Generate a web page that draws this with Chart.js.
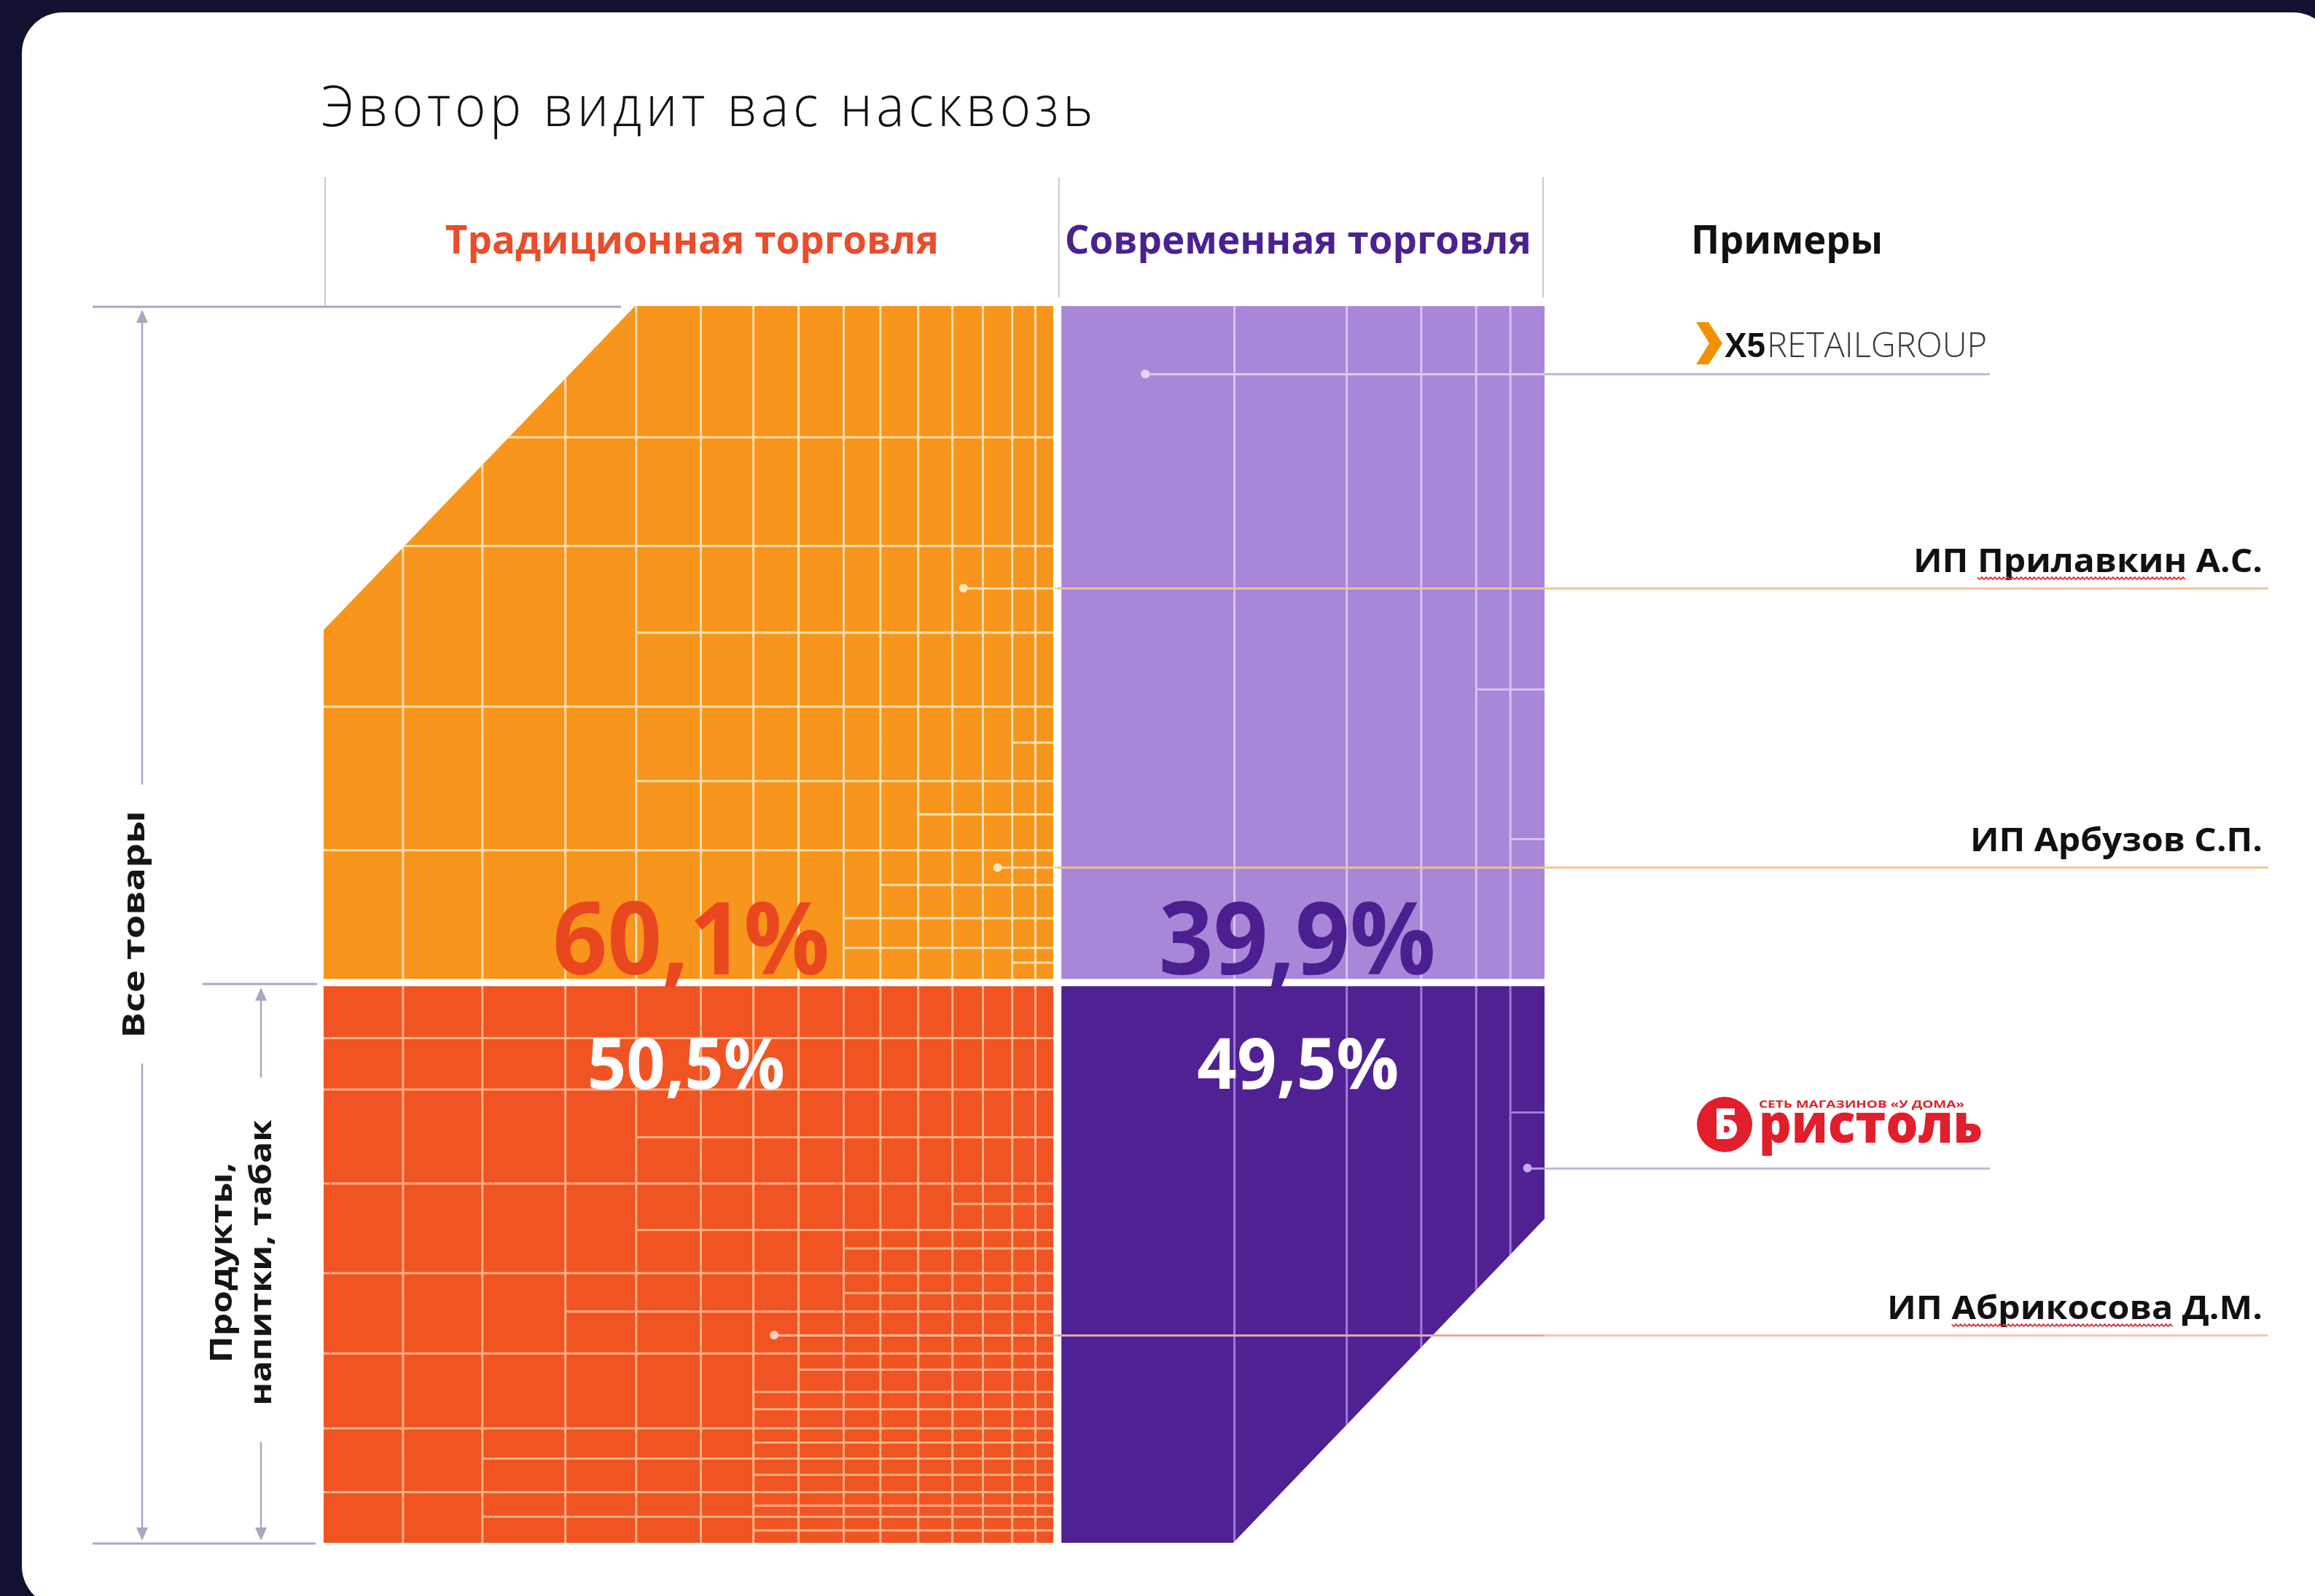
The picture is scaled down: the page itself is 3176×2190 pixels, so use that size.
<!DOCTYPE html>
<html lang="ru">
<head>
<meta charset="utf-8">
<title>Эвотор видит вас насквозь</title>
<script src="https://cdn.jsdelivr.net/npm/chart.js@4.4.1/dist/chart.umd.min.js"></script>
<style>
  html, body { margin: 0; padding: 0; width: 3176px; height: 2190px; overflow: hidden; background: #10122f; }
  #card { position: absolute; left: 30px; top: 17px; width: 3172px; height: 2188px; border-radius: 56px; background: #fff; }
  #wrap { position: absolute; left: 0; top: 0; width: 3176px; height: 2190px; }
</style>
</head>
<body>
<div id="card"></div>
<div id="wrap"><canvas id="chart"></canvas></div>
<script>
const title = "Эвотор видит вас насквозь";
const segments = ["Традиционная торговля", "Современная торговля"];
const row_labels = ["Все товары", "Продукты, напитки, табак"];
const all_goods_share = [60.1, 39.9];
const food_share = [50.5, 49.5];
const food_band = 45.3; // height of the food band on the y axis

// store cells inside each block: column edges (x) and rows [level, from x]
const trad_columns = [6.5, 13.0, 19.8, 25.6, 30.9, 35.2, 38.9, 42.6, 45.6, 48.7, 51.5, 54.0, 56.4, 58.3];
const trad_top_rows = [[89.4, 0], [80.6, 0], [73.6, 25.6], [67.6, 0], [64.7, 56.4], [61.6, 25.6],
  [58.9, 48.7], [56.0, 0], [53.2, 45.6], [50.5, 42.6], [48.1, 42.6], [46.9, 56.4]];
const trad_food_rows = [[40.8, 0], [36.65, 0], [32.8, 25.6], [29.05, 0], [27.4, 51.5], [25.3, 25.6],
  [23.8, 42.6], [21.8, 0], [20.2, 42.6], [18.7, 19.8], [15.3, 0], [14.0, 38.9], [12.2, 35.2],
  [10.8, 35.2], [9.25, 0], [8.1, 35.2], [6.8, 13.1], [5.5, 35.2], [4.1, 0], [3.0, 35.2], [2.1, 13.1], [1.0, 35.2]];
const modern_columns = [74.6, 83.8, 89.9, 94.4, 97.2];
const modern_top_rows = [[69.0, 94.4], [56.9, 97.2]];
const modern_food_rows = [[34.8, 97.2]];

// examples pointed at inside the blocks
const examples = ["X5 Retail Group", "ИП Прилавкин А.С.", "ИП Арбузов С.П.", "Бристоль", "ИП Абрикосова Д.М."];
const example_x = [67.3, 52.4, 55.2, 98.6, 36.9];
const example_y = [94.5, 77.2, 54.6, 30.3, 16.8];

// styles
const CUT_X = 25.5; // bevel of the two outer corners, axis units
const CUT_Y = 26.2;
const DOT_COLORS = ["#e3d5f8", "#fde3bd", "#fde3bd", "#c3a9f0", "#fdd0b7"];
const LEADER_COLORS = [
  [null, "#dccbf5", "#bdbdd0"],
  ["#fddcb0", "#f2c08f", "#f6c79b"],
  ["#fddcb0", "#f2c08f", "#f6c79b"],
  [null, "#b497ea", "#bdbdd0"],
  ["#fcc1a2", "#e4a6a6", "#f2c9b0"],
];
const NAME_WIDTH = { "ИП Прилавкин А.С.": 479, "ИП Арбузов С.П.": 401, "ИП Абрикосова Д.М.": 515 };
const SQUIGGLE = ["ИП Прилавкин А.С.", "ИП Абрикосова Д.М."];

const split = all_goods_share[0];
const fmt = (v) => v.toFixed(1).replace(".", ",") + "%";
const is_logo = (name) => name === "X5 Retail Group" || name === "Бристоль";

const block_defs = [
  { label: segments[0] + ": " + row_labels[0], color: "#f8951d",
    shape: [[0, food_band], [0, 100 - CUT_Y], [CUT_X, 100], [split, 100], [split, food_band]],
    cells: { color: "rgba(255,229,188,0.92)", columns: trad_columns, rows: trad_top_rows, x0: 0, x1: split, y0: food_band, y1: 100 } },
  { label: segments[1] + ": " + row_labels[0], color: "#a887d8",
    shape: [[split, food_band], [split, 100], [100, 100], [100, food_band]],
    cells: { color: "#d6c3f4", columns: modern_columns, rows: modern_top_rows, x0: split, x1: 100, y0: food_band, y1: 100 } },
  { label: segments[0] + ": " + row_labels[1], color: "#f05423",
    shape: [[0, 0], [0, food_band], [split, food_band], [split, 0]],
    cells: { color: "rgba(253,180,142,0.95)", columns: trad_columns, rows: trad_food_rows, x0: 0, x1: split, y0: 0, y1: food_band } },
  { label: segments[1] + ": " + row_labels[1], color: "#4f2192",
    shape: [[split, 0], [split, food_band], [100, food_band], [100, CUT_Y], [100 - CUT_X, 0]],
    cells: { color: "#9d7bdc", columns: modern_columns, rows: modern_food_rows, x0: split, x1: 100, y0: 0, y1: food_band } },
];

const datasets = block_defs.map((b) => ({
  label: b.label,
  data: b.shape.map(([x, y]) => ({ x, y })),
  backgroundColor: b.color,
  borderColor: "rgba(0,0,0,0)",
  borderWidth: 0,
  fill: "shape",
  pointRadius: 0,
  tension: 0,
  order: 3,
  cells: b.cells,
}));
datasets.push(
  { label: "gap-x", data: [{ x: split, y: 0 }, { x: split, y: 100 }],
    borderColor: "#ffffff", borderWidth: 11, pointRadius: 0, fill: false, order: 2 },
  { label: "gap-y", data: [{ x: 0, y: food_band }, { x: 100, y: food_band }],
    borderColor: "#ffffff", borderWidth: 10, pointRadius: 0, fill: false, order: 2 },
  { label: "Примеры", role: "examples",
    data: example_x.map((x, i) => ({ x, y: example_y[i] })),
    showLine: false, pointRadius: 6, pointBorderWidth: 0,
    pointBackgroundColor: DOT_COLORS, order: 0, clip: false }
);

function fit_text(ctx, text, x, y, width, align) {
  const w = ctx.measureText(text).width;
  ctx.save();
  ctx.translate(x, y);
  ctx.scale(width / w, 1);
  ctx.textAlign = align || "left";
  ctx.fillText(text, 0, 0);
  ctx.restore();
}

function v_text(ctx, text, base_x, center_y, len) {
  ctx.save();
  ctx.translate(base_x, center_y);
  ctx.rotate(-Math.PI / 2);
  fit_text(ctx, text, 0, 0, len, "center");
  ctx.restore();
}

function line(ctx, x0, y0, x1, y1) {
  ctx.beginPath();
  ctx.moveTo(x0, y0);
  ctx.lineTo(x1, y1);
  ctx.stroke();
}

function arrow(ctx, x, tip_y, dir) {
  ctx.beginPath();
  ctx.moveTo(x, tip_y);
  ctx.lineTo(x - 8, tip_y - dir * 18);
  ctx.lineTo(x + 8, tip_y - dir * 18);
  ctx.closePath();
  ctx.fill();
}

function zigzag(ctx, x0, x1, y) {
  ctx.save();
  ctx.strokeStyle = "#e5252f";
  ctx.lineWidth = 1.6;
  ctx.beginPath();
  for (let px = x0, k = 0; px <= x1; px += 3, k++) {
    const py = y + (k % 2 ? 2 : -1);
    k ? ctx.lineTo(px, py) : ctx.moveTo(px, py);
  }
  ctx.stroke();
  ctx.restore();
}

function draw_cells(chart, cells, meta) {
  const { ctx, scales: { x, y } } = chart;
  ctx.save();
  ctx.beginPath();
  meta.data.forEach((p, i) => (i ? ctx.lineTo(p.x, p.y) : ctx.moveTo(p.x, p.y)));
  ctx.closePath();
  ctx.clip();
  ctx.strokeStyle = cells.color;
  ctx.lineWidth = 3;
  ctx.beginPath();
  cells.columns.filter((v) => v > cells.x0 && v < cells.x1).forEach((v) => {
    const px = x.getPixelForValue(v);
    ctx.moveTo(px, y.getPixelForValue(cells.y0));
    ctx.lineTo(px, y.getPixelForValue(cells.y1));
  });
  cells.rows.forEach(([level, from]) => {
    const py = y.getPixelForValue(level);
    ctx.moveTo(x.getPixelForValue(Math.max(from, cells.x0)), py);
    ctx.lineTo(x.getPixelForValue(cells.x1), py);
  });
  ctx.stroke();
  ctx.restore();
}

function draw_leaders(chart, meta) {
  const { ctx, chartArea: a, scales: { x } } = chart;
  const split_px = x.getPixelForValue(split);
  meta.data.forEach((pt, i) => {
    const end = is_logo(examples[i]) ? a.right + 611 : a.right + 993;
    const [c_orange, c_purple, c_out] = LEADER_COLORS[i];
    const yy = Math.round(pt.y) + 0.5;
    ctx.save();
    ctx.lineWidth = 3;
    const seg = (x0, x1, col) => {
      if (x1 <= x0) return;
      ctx.strokeStyle = col;
      line(ctx, x0, yy, x1, yy);
    };
    seg(pt.x, split_px, c_orange || c_purple);
    seg(Math.max(pt.x, split_px), a.right, c_purple);
    seg(a.right, end, c_out);
    ctx.restore();
  });
}

function draw_examples(ctx, a, meta) {
  meta.data.forEach((pt, i) => {
    const name = examples[i];
    const ly = Math.round(pt.y);
    if (name === "X5 Retail Group") {
      const lx = a.right + 208;
      ctx.fillStyle = "#f39200";
      ctx.beginPath();
      ctx.moveTo(lx, ly - 71);
      ctx.lineTo(lx + 17, ly - 71);
      ctx.lineTo(lx + 36, ly - 42);
      ctx.lineTo(lx + 17, ly - 13);
      ctx.lineTo(lx, ly - 13);
      ctx.lineTo(lx + 18, ly - 42);
      ctx.closePath();
      ctx.fill();
      ctx.fillStyle = "#111";
      ctx.font = '700 48px "Liberation Sans"';
      fit_text(ctx, "X5", lx + 39, ly - 23, 56, "left");
      ctx.fillStyle = "#3a3a3a";
      ctx.font = '300 48px "Open Sans"';
      fit_text(ctx, "RETAILGROUP", lx + 97, ly - 23, 302, "left");
    } else if (name === "Бристоль") {
      const cx = a.right + 247;
      ctx.fillStyle = "#e11f2c";
      ctx.beginPath();
      ctx.arc(cx, ly - 60, 38, 0, Math.PI * 2);
      ctx.fill();
      ctx.fillStyle = "#fff";
      ctx.font = '800 58px "Open Sans"';
      fit_text(ctx, "Б", cx + 2, ly - 40, 34, "center");
      ctx.fillStyle = "#e11f2c";
      ctx.font = '800 74px "Open Sans"';
      fit_text(ctx, "ристоль", a.right + 294, ly - 35, 307, "left");
      ctx.font = '700 14px "Open Sans"';
      fit_text(ctx, "СЕТЬ МАГАЗИНОВ «У ДОМА»", a.right + 294, ly - 83, 282, "left");
    } else {
      const right_x = a.right + 985;
      const width = NAME_WIDTH[name] || 450;
      const base = ly - 22;
      ctx.fillStyle = "#111";
      ctx.font = '700 45px "Open Sans"';
      const k = width / ctx.measureText(name).width;
      fit_text(ctx, name, right_x, base, width, "right");
      if (SQUIGGLE.includes(name)) {
        const words = name.split(" ");
        const start = right_x - width;
        const w0 = start + ctx.measureText(words[0] + " ").width * k;
        const w1 = start + ctx.measureText(words[0] + " " + words[1]).width * k;
        zigzag(ctx, w0, w1, base + 8);
      }
    }
  });
}

function draw_text(chart) {
  const { ctx, chartArea: a, scales: { x, y } } = chart;
  const split_px = x.getPixelForValue(split);
  const food_px = y.getPixelForValue(food_band);
  const trad_c = (a.left + split_px) / 2;
  const mod_c = (split_px + a.right) / 2;
  ctx.save();
  ctx.textBaseline = "alphabetic";

  // title
  ctx.fillStyle = "#111";
  ctx.font = '300 77px "Open Sans"';
  ctx.letterSpacing = "6px";
  fit_text(ctx, title, a.left - 3, 173, 1064, "left");
  ctx.letterSpacing = "0px";

  // header rules and column titles
  ctx.strokeStyle = "#c8c8d6";
  ctx.lineWidth = 2;
  line(ctx, a.left + 2, 243, a.left + 2, a.top);
  line(ctx, split_px + 2, 243, split_px + 2, a.top - 12);
  line(ctx, a.right - 2, 243, a.right - 2, a.top - 12);

  ctx.font = '700 53px "Open Sans"';
  ctx.fillStyle = "#ea4d2b";
  fit_text(ctx, segments[0], trad_c + 2, 348, 677, "center");
  ctx.fillStyle = "#4b2190";
  fit_text(ctx, segments[1], mod_c - 4, 348, 640, "center");
  ctx.fillStyle = "#111";
  fit_text(ctx, "Примеры", a.right + 201, 348, 263, "left");

  // shares
  ctx.font = '700 138px "Open Sans"';
  ctx.fillStyle = "#e9481f";
  fit_text(ctx, fmt(all_goods_share[0]), trad_c + 1, food_px - 11, 380, "center");
  ctx.fillStyle = "#4b1f8f";
  fit_text(ctx, fmt(all_goods_share[1]), mod_c - 5, food_px - 11, 380, "center");
  ctx.font = '700 96px "Open Sans"';
  ctx.fillStyle = "#ffffff";
  fit_text(ctx, fmt(food_share[0]), trad_c - 6, food_px + 146, 271, "center");
  fit_text(ctx, fmt(food_share[1]), mod_c - 4, food_px + 146, 277, "center");

  // left brackets
  const mid_all = (a.top + a.bottom) / 2;
  const food_c = (food_px + a.bottom) / 2;
  const ax1 = a.left - 249;
  const ax2 = a.left - 86;
  ctx.strokeStyle = "#a8a8c2";
  ctx.fillStyle = "#a8a8c2";
  ctx.lineWidth = 3;
  line(ctx, a.left - 317, a.top + 1, x.getPixelForValue(CUT_X) - 19, a.top + 1);
  line(ctx, a.left - 166, food_px + 2, a.left - 9, food_px + 2);
  line(ctx, a.left - 317, a.bottom + 1, a.left - 11, a.bottom + 1);
  ctx.lineWidth = 2.5;
  line(ctx, ax1, a.top + 20, ax1, mid_all - 192);
  line(ctx, ax1, mid_all + 191, ax1, a.bottom - 18);
  arrow(ctx, ax1, a.top + 5, -1);
  arrow(ctx, ax1, a.bottom - 3, 1);
  line(ctx, ax2, food_px + 22, ax2, food_c - 254);
  line(ctx, ax2, food_c + 246, ax2, a.bottom - 18);
  arrow(ctx, ax2, food_px + 7, -1);
  arrow(ctx, ax2, a.bottom - 3, 1);

  ctx.fillStyle = "#151515";
  ctx.font = '700 42px "Open Sans"';
  v_text(ctx, row_labels[0], a.left - 246, mid_all, 312);
  const cut = row_labels[1].indexOf(", ") + 1;
  v_text(ctx, row_labels[1].slice(0, cut), a.left - 126, food_c, 275);
  v_text(ctx, row_labels[1].slice(cut + 1), a.left - 72, food_c, 392);

  // examples column
  const ex_meta = chart.getDatasetMeta(chart.data.datasets.findIndex((d) => d.role === "examples"));
  draw_examples(ctx, a, ex_meta);
  ctx.restore();
}

const infographic = {
  id: "infographic",
  beforeDatasetDraw(chart, args) {
    const ds = chart.data.datasets[args.index];
    if (ds.role === "examples") draw_leaders(chart, args.meta);
  },
  afterDatasetDraw(chart, args) {
    const ds = chart.data.datasets[args.index];
    if (ds.cells) draw_cells(chart, ds.cells, args.meta);
  },
  afterDraw(chart) {
    draw_text(chart);
  },
};

new Chart(document.getElementById("chart"), {
  type: "line",
  data: { datasets },
  options: {
    responsive: true,
    maintainAspectRatio: false,
    animation: false,
    events: [],
    layout: { padding: { left: 444, right: 1057, top: 420, bottom: 73 } },
    scales: {
      x: { type: "linear", min: 0, max: 100, display: false },
      y: { type: "linear", min: 0, max: 100, display: false },
    },
    plugins: { legend: { display: false }, tooltip: { enabled: false } },
  },
  plugins: [infographic],
});
</script>
</body>
</html>
